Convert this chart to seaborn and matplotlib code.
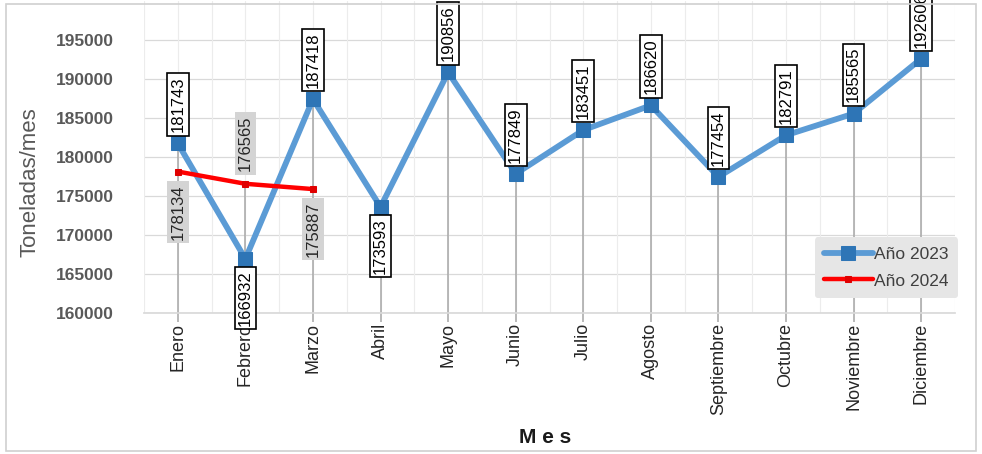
import matplotlib.pyplot as plt
import numpy as np
import pandas as pd
import seaborn as sns
from matplotlib.patches import Rectangle

meses = ["Enero", "Febrero", "Marzo", "Abril", "Mayo", "Junio", "Julio",
         "Agosto", "Septiembre", "Octubre", "Noviembre", "Diciembre"]
valores_2023 = [181743, 166932, 187418, 173593, 190856, 177849, 183451,
                186620, 177454, 182791, 185565, 192606]
valores_2024 = [178134, 176565, 175887]
# label above (+1) or below (-1) the point
lado_2023 = [1, -1, 1, -1, 1, 1, 1, 1, 1, 1, 1, 1]
lado_2024 = [-1, 1, -1]
y_ticks = list(range(160000, 200000, 5000))

sns.set_theme(style="white")
plt.rcParams["font.family"] = ["Liberation Sans", "DejaVu Sans"]

df23 = pd.DataFrame({"idx": np.arange(len(meses)), "valor": valores_2023})
df24 = pd.DataFrame({"idx": np.arange(len(valores_2024)), "valor": valores_2024})

fig = plt.figure(figsize=(9.82, 4.54), dpi=100)
ax = fig.add_axes([144 / 982, 1 - 313 / 454, (955 - 144) / 982, 312 / 454])

# light grid
for v in y_ticks:
    ax.axhline(v, color="#d9d9d9", lw=0.9, zorder=0)
for x in np.arange(-0.5, len(meses), 0.5):
    ax.axvline(x, color="#ececec", lw=0.8, zorder=0)

# drop lines from the highest point of each month to the axis
tops = [max(valores_2023[i], valores_2024[i]) if i < len(valores_2024) else valores_2023[i]
        for i in range(len(meses))]
ax.vlines(np.arange(len(meses)), 158800, tops, color="#a6a6a6", lw=1.1, zorder=1,
          clip_on=False)

sns.lineplot(data=df23, x="idx", y="valor", ax=ax, color="#5b9bd5", lw=4.2,
             marker="s", markersize=10, markerfacecolor="#2e75b6",
             markeredgecolor="#2e75b6", label="Año 2023", zorder=3)
sns.lineplot(data=df24, x="idx", y="valor", ax=ax, color="#ff0000", lw=3.2,
             marker="s", markersize=5, markerfacecolor="#e00000",
             markeredgecolor="#e00000", label="Año 2024", zorder=4)

for i, (v, s) in enumerate(zip(valores_2023, lado_2023)):
    ax.annotate(str(v), (i, v), xytext=(0, 8 * s), textcoords="offset points",
                rotation=90, ha="center", va="bottom" if s > 0 else "top",
                fontsize=12, color="black", zorder=6, annotation_clip=False,
                bbox=dict(boxstyle="square,pad=0.2", fc="white", ec="black", lw=1.2))
for i, (v, s) in enumerate(zip(valores_2024, lado_2024)):
    ax.annotate(str(v), (i, v), xytext=(0, 9 * s), textcoords="offset points",
                rotation=90, ha="center", va="bottom" if s > 0 else "top",
                fontsize=12, color="#262626", zorder=5,
                bbox=dict(boxstyle="square,pad=0.2", fc="#d4d4d4", ec="none"))

ax.set_xlim(-0.5, len(meses) - 0.5)
ax.set_ylim(160000, 200000)
ax.set_yticks(y_ticks)
ax.set_yticklabels([str(v) for v in y_ticks], fontsize=12.5, fontweight="bold",
                   color="#595959")
ax.set_xticks(np.arange(len(meses)))
ax.set_xticklabels(meses, rotation=90, fontsize=13, color="#262626")
ax.tick_params(axis="y", length=0, pad=22)
ax.tick_params(axis="x", length=0, pad=7)
for side in ["top", "right", "left"]:
    ax.spines[side].set_visible(False)
ax.spines["bottom"].set_color("#d9d9d9")

ax.set_xlabel("M e s", fontsize=15, fontweight="bold", color="#1a1a1a")
ax.xaxis.set_label_coords(0.495, -0.37)
ax.set_ylabel("Toneladas/mes", fontsize=16, color="#595959")
ax.yaxis.set_label_coords(-0.128, 0.42)

leg = ax.legend(loc="lower right", bbox_to_anchor=(1.015, 0.02), frameon=True,
                fontsize=12.5, handlelength=2.8, handletextpad=0.1,
                borderpad=0.55, labelspacing=0.65)
leg.get_frame().set_facecolor("#e6e6e6")
leg.get_frame().set_edgecolor("none")
leg.get_frame().set_alpha(1)
for t in leg.get_texts():
    t.set_color("#404040")

fig.patches.append(Rectangle((6 / 982, 3 / 454), 970 / 982, 447 / 454,
                             transform=fig.transFigure, fill=False,
                             ec="#d0d0d0", lw=1.2))

fig.savefig("out.png", dpi=100)
